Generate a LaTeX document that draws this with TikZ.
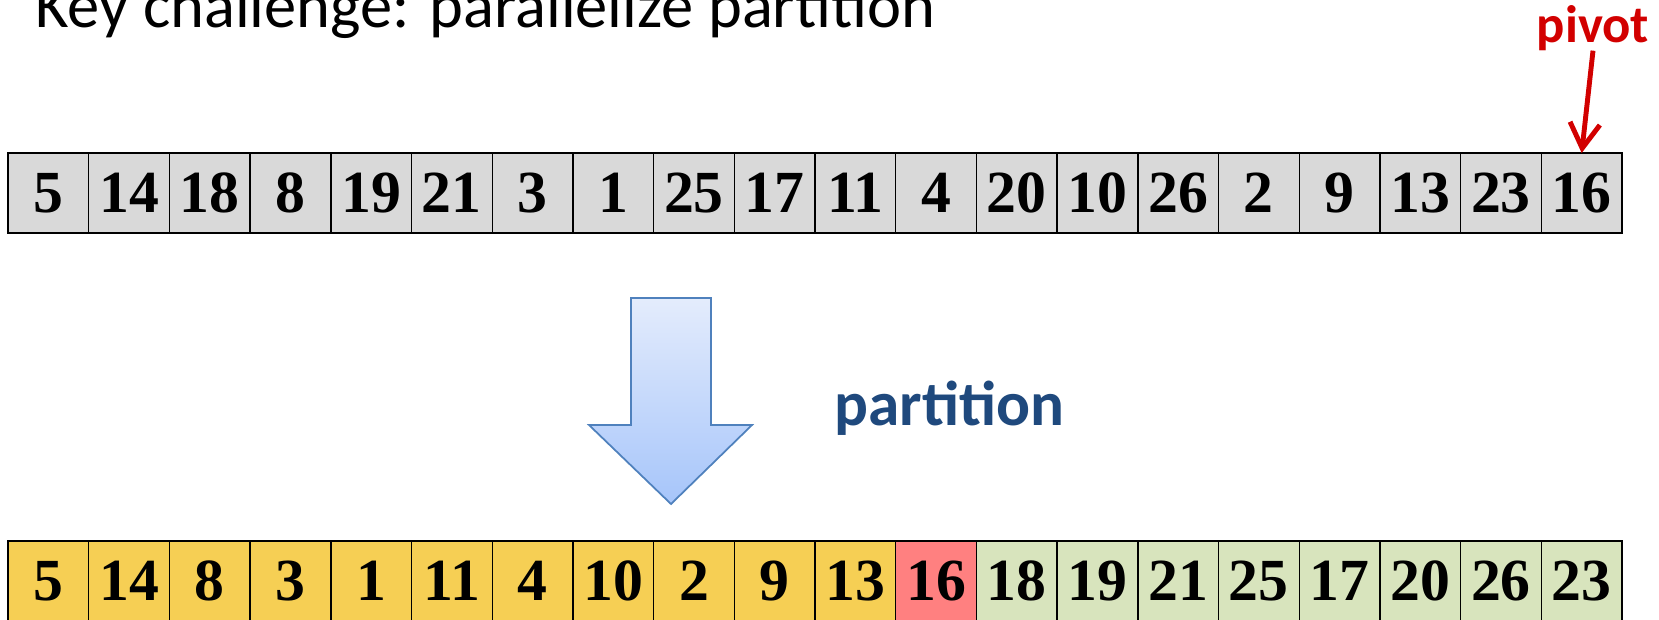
\documentclass[tikz,border=0pt]{standalone}
\usepackage{fontspec}
\setmainfont{Carlito}
\newfontfamily\numfont{Liberation Serif}
\usetikzlibrary{arrows.meta,positioning}

\definecolor{cellgray}{RGB}{217,217,217}
\definecolor{cellyellow}{RGB}{246,207,84}
\definecolor{cellred}{RGB}{255,128,128}
\definecolor{cellgreen}{RGB}{216,228,189}
\definecolor{pivotred}{RGB}{210,0,0}
\definecolor{partblue}{RGB}{31,73,125}
\definecolor{arrowedge}{RGB}{79,129,189}
\definecolor{arrowtop}{RGB}{228,236,252}
\definecolor{arrowbot}{RGB}{166,197,250}

\begin{document}
\begin{tikzpicture}[
  cell/.style={draw, line width=0.8pt, minimum width=1.614cm, minimum height=1.6cm,
    inner sep=0pt, outer sep=0pt, font=\numfont\bfseries\fontsize{34}{38}\selectfont}]
\useasboundingbox (0,0) rectangle (33.18,-12.38);

\node (title) [anchor=base west, inner sep=0pt, font=\fontsize{36.7}{44}\selectfont]
  at (0.70,-0.54) {Key challenge: parallelize partition};

% input
\foreach \v [count=\i] in {5,14,18,8,19,21,3,1,25,17,11,4,20,10,26,2,9,13,23,16}
  \node (t\i) [cell, fill=cellgray] at ({0.16+(\i-0.5)*1.614},-3.86) {\v};

\node (pivot) [anchor=base, inner sep=0pt, text=pivotred, font=\bfseries\fontsize{30}{35}\selectfont]
  at (31.86,-0.84) {pivot};
\draw [pivotred, line width=2.8pt, -{Straight Barb[length=5mm,width=6mm]}] (pivot.south) -- (t20.north);

% partition step
\shade [draw=arrowedge, line width=1pt, top color=arrowtop, bottom color=arrowbot]
  (12.62,-5.96) -- (14.22,-5.96) -- (14.22,-8.5) -- (15.04,-8.5) -- (13.42,-10.08)
  -- (11.78,-8.5) -- (12.62,-8.5) -- cycle;
\node (part) [anchor=base west, inner sep=0pt, text=partblue, font=\bfseries\fontsize{36}{42}\selectfont]
  at (16.68,-8.5) {partition};

% output
\foreach \v/\c [count=\i] in {5/cellyellow,14/cellyellow,8/cellyellow,3/cellyellow,1/cellyellow,
    11/cellyellow,4/cellyellow,10/cellyellow,2/cellyellow,9/cellyellow,13/cellyellow,16/cellred,
    18/cellgreen,19/cellgreen,21/cellgreen,25/cellgreen,17/cellgreen,20/cellgreen,26/cellgreen,23/cellgreen}
  \node (b\i) [cell, fill=\c] at ({0.16+(\i-0.5)*1.614},-11.62) {\v};
\end{tikzpicture}
\end{document}
